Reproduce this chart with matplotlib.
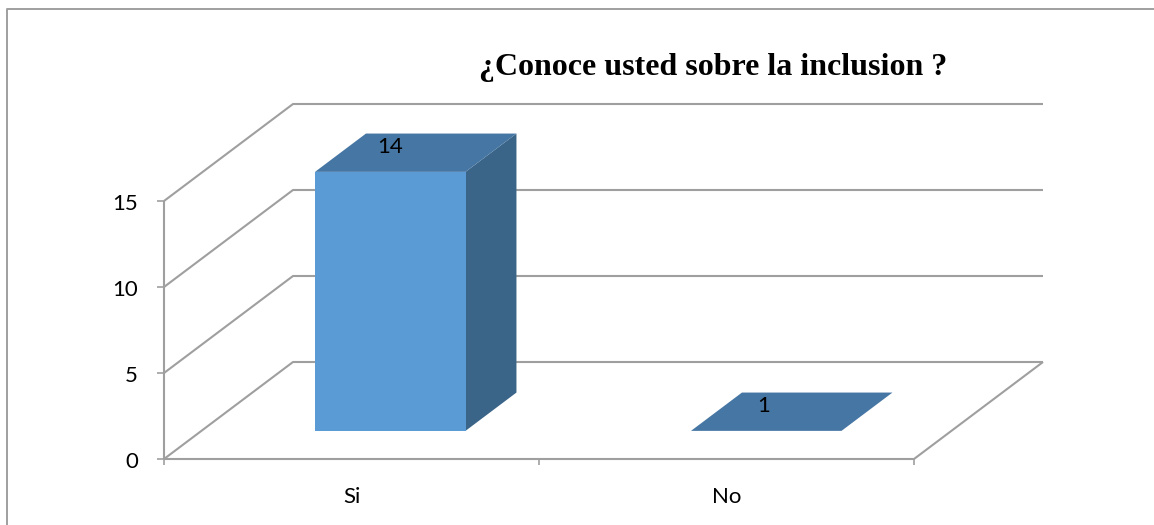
#!/usr/bin/env python

import matplotlib
matplotlib.use('Agg')
import matplotlib.pyplot as plt
from matplotlib.patches import Polygon

title = '¿Conoce usted sobre la inclusion ?'
categories = ['Si', 'No']
values = [14, 1]
axis_ticks = [0, 5, 10, 15]

grid_color = '#9f9f9f'
front_color = '#5b9bd5'
top_color = '#4676a3'
side_color = '#3a6488'

# everything is laid out in image pixels
W, H = 1154, 525
fig = plt.figure(figsize=(W / 100, H / 100), dpi=100)
ax = fig.add_axes([0, 0, 1, 1])
ax.set_xlim(0, W)
ax.set_ylim(H, 0)
ax.axis('off')

# the fake 3d scale: front plane of the box, plus a shift for depth
x0, x_step = 164, 375
y0, y_step = 459, 258 / 15
depth_x, depth_y = 129, -97


def sx(cat, depth=0):
    return x0 + cat * x_step + depth * depth_x


def sy(val, depth=0):
    return y0 - val * y_step + depth * depth_y


# bars start at 1 on their own stretched scale
bar_depth = 0.29
bar_depth_size = 0.395
bar_width = 150.5
bar_step = 376
bar_inset = 151
bar_unit = 259 / 13


def bar_y(val):
    return y0 + bar_depth * depth_y - (val - 1) * bar_unit


def line(xs, ys, lw=1.5):
    ax.plot(xs, ys, color=grid_color, lw=lw, solid_capstyle='butt', zorder=1)


# outer frame, only left and top are inside the picture
line([6.5, 6.5, W], [H, 8.5, 8.5], lw=1.4)

for t in axis_ticks:
    line([sx(0), sx(0, 1), sx(2, 1)], [sy(t), sy(t, 1), sy(t, 1)])
    line([sx(0) - 7, sx(0)], [sy(t), sy(t)], lw=1.2)
    ax.text(138, sy(t) + 3, str(t), ha='right', va='center', family='Lato',
            fontsize=16, color='black')

line([sx(0), sx(0)], [sy(0), sy(axis_ticks[-1])])
line([sx(0), sx(2), sx(2, 1)], [sy(0), sy(0), sy(0, 1)])
for c in range(len(categories) + 1):
    line([sx(c), sx(c)], [sy(0), sy(0) + 6], lw=1.2)

for i, (name, val) in enumerate(zip(categories, values)):
    left = sx(0) + bar_inset + i * bar_step
    right = left + bar_width
    shift = bar_depth_size * depth_x
    rise = bar_depth_size * depth_y
    base = bar_y(1)
    top = bar_y(val)

    ax.add_patch(Polygon([(right, base), (right + shift, base + rise),
                          (right + shift, top + rise), (right, top)],
                         fc=side_color, ec='none', zorder=3))
    ax.add_patch(Polygon([(left, top), (right, top), (right + shift, top + rise),
                          (left + shift, top + rise)],
                         fc=top_color, ec='none', zorder=3))
    ax.add_patch(Polygon([(left, base), (right, base), (right, top), (left, top)],
                         fc=front_color, ec='none', zorder=3))

    ax.text((left + right) / 2 - (i * 3), top + rise / 2 - 6, str(val),
            ha='center', va='center', family='Lato', fontsize=16, color='black', zorder=4)
    ax.text(sx(i + 0.5), 497, name, ha='center', va='center', family='Lato',
            fontsize=16, color='black')

ax.text(713, 67, title, ha='center', va='center', family='Liberation Serif',
        fontweight='bold', fontsize=23, color='black')

fig.savefig('out.png', dpi=100)
